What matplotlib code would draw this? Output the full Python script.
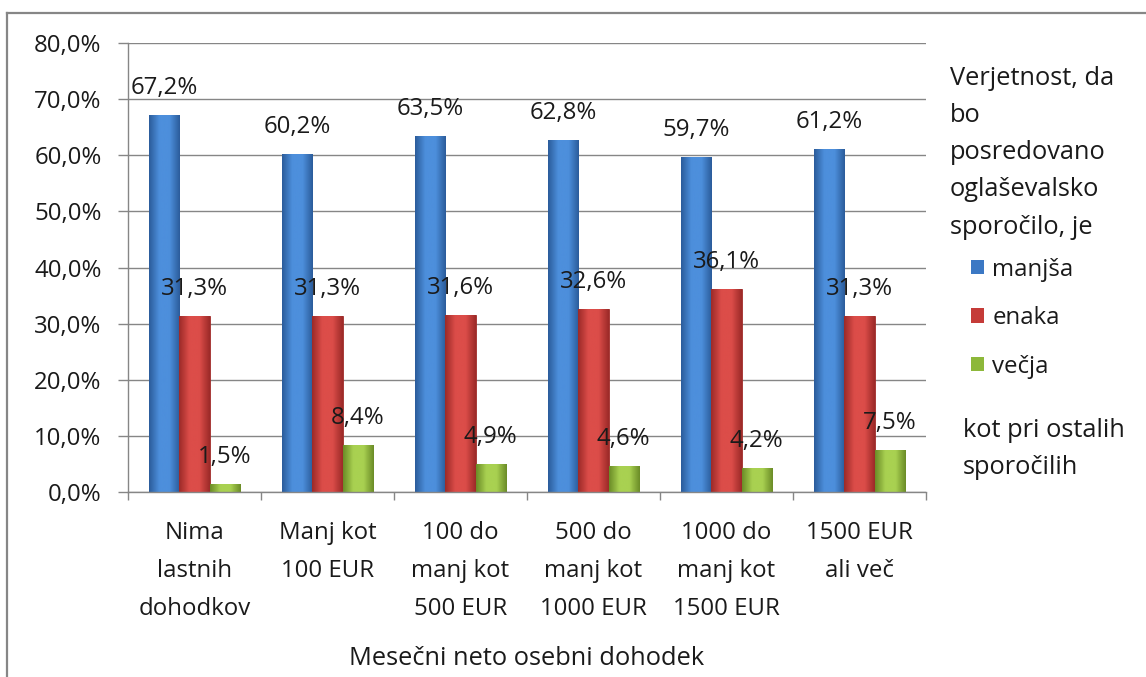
import numpy as np
import matplotlib
matplotlib.use("Agg")
import matplotlib.pyplot as plt
from matplotlib.lines import Line2D
from matplotlib.patches import Rectangle
from matplotlib.colors import LinearSegmentedColormap
from matplotlib.ticker import FuncFormatter, FixedLocator

plt.rcParams['font.family'] = ['Open Sans', 'DejaVu Sans']

categories = ["Nima\nlastnih\ndohodkov", "Manj kot\n100 EUR", "100 do\nmanj kot\n500 EUR",
              "500 do\nmanj kot\n1000 EUR", "1000 do\nmanj kot\n1500 EUR", "1500 EUR\nali več"]
series_names = ["manjša", "enaka", "večja"]
manjsa = [67.2, 60.2, 63.5, 62.8, 59.7, 61.2]
enaka = [31.3, 31.3, 31.6, 32.6, 36.1, 31.3]
vecja = [1.5, 8.4, 4.9, 4.6, 4.2, 7.5]
y_ticks = [0, 10, 20, 30, 40, 50, 60, 70, 80]

legend_title = "Verjetnost, da\nbo\nposredovano\noglaševalsko\nsporočilo, je"
legend_note = "kot pri ostalih\nsporočilih"
x_title = "Mesečni neto osebni dohodek"

# (dark edge, light centre) shades for each series
shades = [("#2b5c9b", "#4d8fdc"), ("#9c2a28", "#dc4d49"), ("#6b8c27", "#a9d151")]
legend_colors = ["#3b78c4", "#c53b38", "#8db83a"]

W, H = 1146, 677
fig = plt.figure(figsize=(W / 100, H / 100), dpi=100)
ax = fig.add_axes([128 / W, 1 - 492 / H, (926 - 128) / W, (492 - 43) / H])

FS = 17.3      # tick and value labels
FS_T = 18.3    # axis title and legend text
LS = 1.76
LS_T = 1.64
TXT = "#1a1a1a"
x = np.arange(len(categories))
w = 0.2256
data = [manjsa, enaka, vecja]

ax.set_xlim(-0.5, len(categories) - 0.5)
ax.set_ylim(0, 80)

for i, (vals, (dark, light)) in enumerate(zip(data, shades)):
    cmap = LinearSegmentedColormap.from_list("b%d" % i, [dark, light, light, dark])
    grad = np.linspace(0, 1, 64).reshape(1, -1)
    bars = ax.bar(x + (i - 1) * w, vals, width=w, color=light, edgecolor=dark,
                  linewidth=0.6, zorder=2)
    for b, v in zip(bars, vals):
        x0, x1 = b.get_x(), b.get_x() + b.get_width()
        im = ax.imshow(grad, cmap=cmap, extent=[x0, x1, 0, v], aspect="auto",
                       zorder=2.5, interpolation="bicubic")
        im.set_clip_path(b)
        ax.annotate(f"{v:.1f}%".replace(".", ","), xy=(b.get_x() + b.get_width() / 2, v),
                    xytext=(0, 27), textcoords="offset pixels", ha="center", va="center",
                    fontsize=FS, color=TXT, zorder=4)

ax.set_xlim(-0.5, len(categories) - 0.5)
ax.set_ylim(0, 80)

# axes styling
for s in ["top", "right"]:
    ax.spines[s].set_visible(False)
for s in ["left", "bottom"]:
    ax.spines[s].set_color("#868686")
    ax.spines[s].set_linewidth(1.0)

ax.yaxis.set_major_locator(FixedLocator(y_ticks))
ax.yaxis.set_major_formatter(FuncFormatter(lambda v, p: f"{v:.1f}%".replace(".", ",")))
ax.grid(axis="y", color="#868686", linewidth=1.0, zorder=0)
ax.set_axisbelow(True)
ax.tick_params(axis="y", length=7, width=1, color="#868686", pad=12, labelsize=FS,
               labelcolor=TXT)

ax.set_xticks(np.arange(len(categories) + 1) - 0.5)
ax.set_xticklabels([])
ax.tick_params(axis="x", which="major", length=6, width=1, color="#868686")
ax.set_xticks(x, minor=True)
ax.set_xticklabels(categories, minor=True, fontsize=FS, color=TXT, linespacing=LS)
ax.tick_params(axis="x", which="minor", length=0, pad=21)

ax.set_xlabel(x_title, fontsize=FS_T, color=TXT, labelpad=18)

# legend block on the right
fig.text(950 / W, 1 - 66 / H, legend_title, fontsize=FS_T, color=TXT,
         ha="left", va="top", linespacing=LS_T)
handles = [Rectangle((0, 0), 1, 1, facecolor=c, edgecolor="none") for c in legend_colors]
fig.legend(handles, series_names, loc="upper left", bbox_to_anchor=(949 / W, 1 - 236 / H),
           frameon=False, fontsize=FS, handlelength=0.55, handleheight=0.55,
           handletextpad=0.35, labelspacing=1.02, labelcolor=TXT)
fig.text(963 / W, 1 - 418 / H, legend_note, fontsize=FS_T, color=TXT,
         ha="left", va="top", linespacing=LS_T)

# chart area frame
fig.add_artist(Line2D([7 / W, 1], [1 - 13 / H, 1 - 13 / H], color="#868686", lw=1.6,
                      transform=fig.transFigure))
fig.add_artist(Line2D([7 / W, 7 / W], [0, 1 - 13 / H], color="#868686", lw=1.6,
                      transform=fig.transFigure))

fig.savefig("out.png", dpi=100)
